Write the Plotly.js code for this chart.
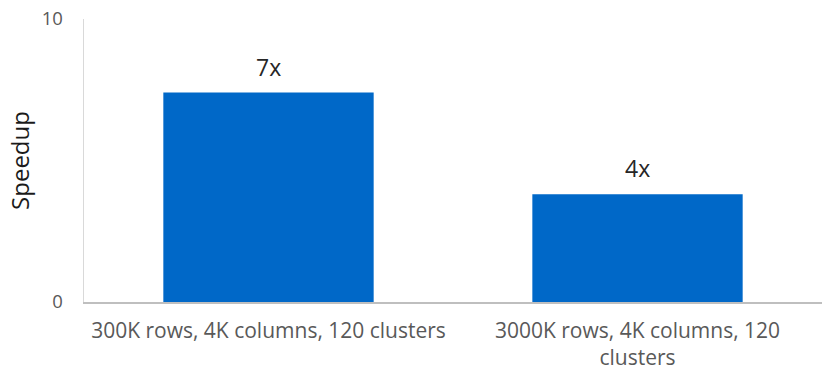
<!DOCTYPE html>
<html>
<head>
<meta charset="utf-8">
<script src="https://cdn.plot.ly/plotly-3.0.1.min.js"></script>
<style>html,body{margin:0;padding:0;background:#fff;}#chart{width:825px;height:371px;}</style>
</head>
<body>
<div id="chart"></div>
<script>
const categories = ["300K rows, 4K columns, 120 clusters", "3000K rows, 4K columns, 120<br>clusters"];
const speedup = [7.4, 3.81];
const barLabels = ["7x", "4x"];
const yTicks = [0, 10];

const trace = {
  type: "bar",
  x: categories,
  y: speedup,
  marker: {color: "#0068c8"},
  hoverinfo: "none"
};

const annotations = categories.map((c, i) => ({
  x: c, y: speedup[i], xref: "x", yref: "y",
  text: barLabels[i], showarrow: false,
  yanchor: "bottom", yshift: 8,
  font: {family: "Open Sans, sans-serif", size: 23, color: "#262626"}
}));

const layout = {
  width: 825, height: 371,
  margin: {l: 84, r: 3, t: 19, b: 69},
  paper_bgcolor: "#fff", plot_bgcolor: "#fff",
  bargap: 0.43,
  showlegend: false,
  font: {family: "Open Sans, sans-serif"},
  xaxis: {
    showline: true, linecolor: "#bfbfbf", linewidth: 1.5,
    ticks: "outside", ticklen: 9, tickcolor: "rgba(0,0,0,0)",
    tickfont: {size: 21, color: "#595959"},
    showgrid: false, zeroline: false
  },
  yaxis: {
    range: [0, 10], tickvals: yTicks, ticktext: yTicks.map(String),
    showgrid: true, gridcolor: "#e8e8e8", gridwidth: 1.5,
    zeroline: false, showline: true, linecolor: "#d9d9d9", linewidth: 1.5,
    ticks: "outside", ticklen: 16, tickcolor: "rgba(0,0,0,0)",
    tickfont: {size: 18.5, color: "#595959"},
    title: {text: "Speedup", font: {size: 24, color: "#1a1a1a"}, standoff: 5}
  },
  annotations: annotations
};

Plotly.newPlot("chart", [trace], layout, {staticPlot: true, displayModeBar: false});
</script>
</body>
</html>
